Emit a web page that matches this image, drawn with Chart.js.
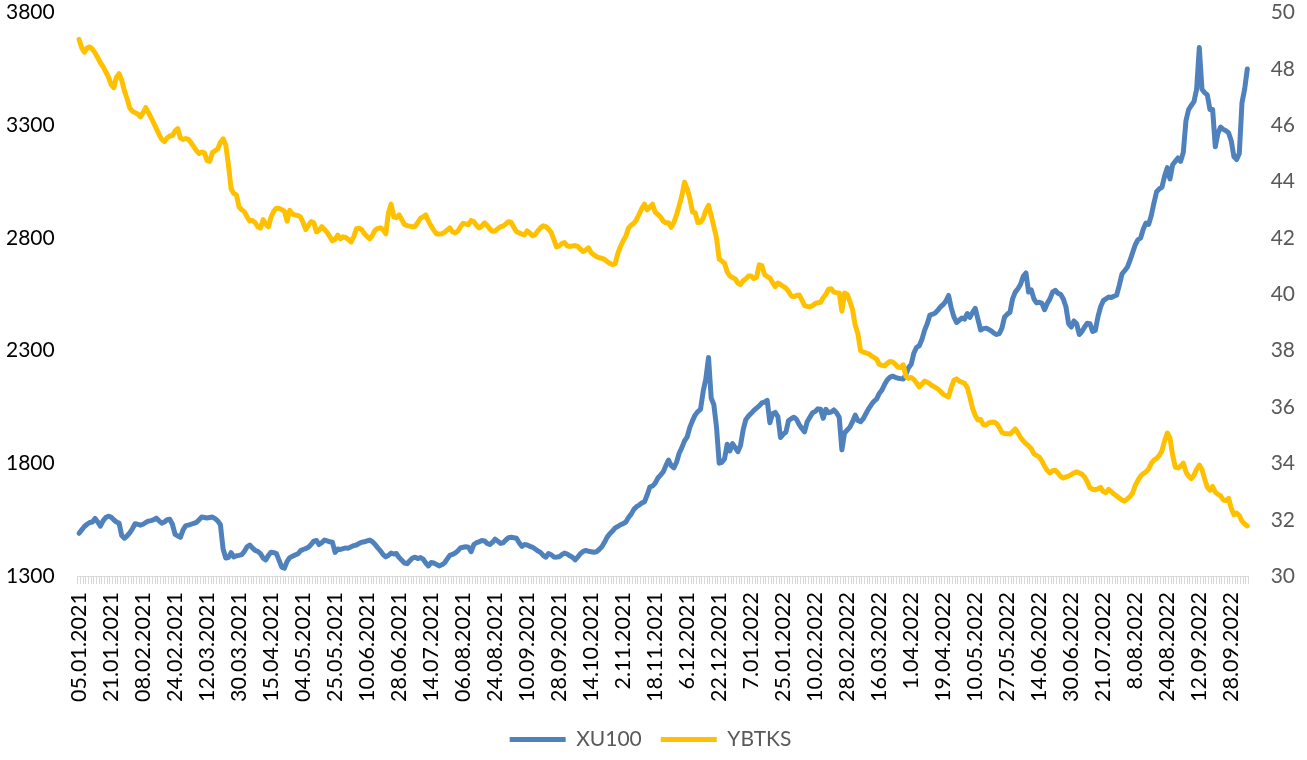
<!DOCTYPE html>
<html>
<head>
<meta charset="utf-8">
<script src="https://cdn.jsdelivr.net/npm/chart.js@4.4.1/dist/chart.umd.min.js"></script>
<style>
  html, body { margin: 0; padding: 0; background: #fff; }
  #wrap { width: 1307px; height: 760px; position: relative; }
</style>
</head>
<body>
<div id="wrap"><canvas id="chart"></canvas></div>
<script>
// Etiketler: her 12 işlem gününde bir
const tickLabels = [
  '05.01.2021', '21.01.2021', '08.02.2021', '24.02.2021', '12.03.2021', '30.03.2021',
  '15.04.2021', '04.05.2021', '25.05.2021', '10.06.2021', '28.06.2021', '14.07.2021',
  '06.08.2021', '24.08.2021', '10.09.2021', '28.09.2021', '14.10.2021', '2.11.2021',
  '18.11.2021', '6.12.2021', '22.12.2021', '7.01.2022', '25.01.2022', '10.02.2022',
  '28.02.2022', '16.03.2022', '1.04.2022', '19.04.2022', '10.05.2022', '27.05.2022',
  '14.06.2022', '30.06.2022', '21.07.2022', '8.08.2022', '24.08.2022', '12.09.2022',
  '28.09.2022'
];
const labelStep = 12;

// XU100 (sol eksen)
const xu100 = [
  1490,1505,1520,1530,1538,1540,1556,1540,1522,1545,1560,1566,
  1562,1550,1540,1535,1480,1468,1478,1492,1510,1532,1530,1526,
  1530,1538,1544,1546,1550,1557,1545,1535,1540,1550,1552,1530,
  1485,1478,1472,1505,1524,1526,1530,1534,1538,1550,1562,1560,
  1558,1560,1562,1555,1545,1528,1420,1380,1382,1404,1385,1390,
  1392,1395,1410,1430,1438,1425,1414,1410,1400,1380,1372,1392,
  1406,1404,1400,1370,1340,1335,1365,1382,1388,1394,1398,1412,
  1418,1422,1428,1440,1455,1458,1440,1448,1460,1456,1452,1450,
  1405,1420,1418,1422,1425,1424,1430,1435,1438,1445,1450,1452,
  1456,1460,1452,1440,1425,1412,1395,1385,1392,1402,1398,1400,
  1382,1370,1358,1355,1368,1380,1384,1378,1382,1375,1358,1345,
  1360,1358,1352,1345,1350,1358,1375,1392,1396,1402,1412,1425,
  1428,1430,1428,1408,1440,1448,1452,1458,1456,1445,1440,1450,
  1464,1455,1445,1448,1460,1470,1472,1470,1468,1448,1432,1440,
  1438,1432,1428,1420,1412,1405,1392,1384,1400,1395,1385,1384,
  1386,1395,1402,1398,1390,1384,1372,1385,1400,1410,1414,1410,
  1408,1406,1408,1418,1430,1450,1473,1488,1500,1514,1520,1528,
  1533,1540,1560,1575,1596,1608,1615,1624,1630,1660,1695,1700,
  1712,1735,1748,1762,1790,1815,1790,1780,1805,1845,1870,1900,
  1918,1960,1990,2015,2030,2040,2120,2175,2270,2090,2060,1960,
  1801,1805,1820,1885,1855,1888,1870,1852,1880,1950,1995,2010,
  2022,2035,2045,2055,2068,2072,2080,1980,2020,2026,2008,1915,
  1930,1938,1990,1998,2005,1995,1972,1955,1940,1985,2005,2025,
  2030,2042,2040,2000,2040,2025,2028,2037,2025,2005,1860,1935,
  1948,1961,1985,2014,1990,1985,1998,2020,2042,2060,2075,2085,
  2110,2125,2150,2170,2182,2187,2182,2178,2176,2174,2195,2225,
  2240,2290,2315,2322,2350,2390,2420,2458,2462,2467,2480,2495,
  2505,2520,2545,2490,2450,2425,2435,2445,2440,2465,2448,2470,
  2488,2440,2392,2398,2400,2395,2388,2378,2372,2376,2400,2450,
  2462,2470,2530,2560,2575,2595,2630,2645,2560,2570,2530,2512,
  2515,2510,2482,2510,2530,2560,2568,2555,2550,2530,2495,2420,
  2405,2432,2420,2372,2385,2405,2422,2420,2385,2390,2450,2495,
  2522,2530,2538,2536,2542,2546,2590,2640,2655,2670,2700,2735,
  2770,2792,2800,2840,2866,2860,2900,2955,3005,3018,3026,3075,
  3112,3062,3125,3140,3155,3140,3180,3320,3370,3388,3405,3460,
  3645,3460,3445,3435,3370,3370,3205,3265,3292,3282,3276,3266,
  3230,3160,3148,3175,3400,3460,3550
];

// YBTKS (sağ eksen)
const ybtks = [
  49.05,48.75,48.60,48.75,48.78,48.70,48.57,48.40,48.22,48.08,47.90,47.72,
  47.45,47.33,47.70,47.83,47.60,47.22,46.95,46.62,46.50,46.45,46.40,46.30,
  46.45,46.63,46.45,46.27,46.08,45.88,45.67,45.50,45.42,45.55,45.62,45.64,
  45.80,45.88,45.55,45.50,45.53,45.50,45.38,45.24,45.10,45.00,45.05,45.02,
  44.75,44.72,45.03,45.10,45.16,45.40,45.52,45.30,44.60,43.75,43.58,43.53,
  43.10,43.00,42.93,42.75,42.60,42.62,42.55,42.40,42.35,42.65,42.50,42.40,
  42.75,42.95,43.06,43.05,43.00,42.95,42.60,42.98,42.85,42.82,42.80,42.75,
  42.55,42.30,42.45,42.58,42.54,42.22,42.28,42.40,42.30,42.20,42.05,41.90,
  41.95,42.10,41.97,42.04,42.02,41.95,41.86,42.05,42.33,42.35,42.29,42.15,
  42.05,41.97,42.10,42.28,42.34,42.36,42.30,42.15,42.90,43.20,42.75,42.72,
  42.82,42.65,42.48,42.44,42.42,42.40,42.41,42.55,42.70,42.75,42.82,42.60,
  42.42,42.28,42.15,42.14,42.15,42.20,42.28,42.36,42.22,42.18,42.24,42.40,
  42.52,42.50,42.47,42.62,42.58,42.45,42.36,42.42,42.54,42.45,42.32,42.24,
  42.25,42.33,42.40,42.42,42.50,42.58,42.55,42.38,42.22,42.18,42.14,42.11,
  42.25,42.18,42.08,42.12,42.25,42.36,42.43,42.40,42.32,42.20,41.95,41.68,
  41.72,41.80,41.84,41.72,41.70,41.72,41.73,41.70,41.60,41.52,41.58,41.65,
  41.48,41.40,41.34,41.30,41.28,41.24,41.16,41.10,41.06,41.08,41.45,41.70,
  41.90,42.06,42.35,42.46,42.52,42.65,42.85,43.05,43.20,43.00,43.10,43.20,
  42.92,42.84,42.75,42.60,42.54,42.54,42.38,42.55,42.82,43.15,43.50,43.98,
  43.75,43.40,42.92,42.90,42.55,42.56,42.70,42.98,43.16,42.80,42.40,42.00,
  41.25,41.18,41.10,40.80,40.65,40.60,40.55,40.40,40.35,40.48,40.55,40.65,
  40.65,40.56,40.60,41.05,41.02,40.70,40.63,40.58,40.42,40.27,40.40,40.35,
  40.28,40.22,40.10,39.95,39.92,39.96,39.98,39.80,39.60,39.57,39.56,39.60,
  39.68,39.70,39.72,39.88,40.00,40.18,40.20,40.08,40.06,40.05,39.40,40.05,
  40.00,39.75,39.45,38.90,38.60,38.00,37.95,37.92,37.89,37.82,37.76,37.70,
  37.52,37.48,37.46,37.55,37.62,37.60,37.52,37.42,37.40,37.50,37.10,37.02,
  37.05,36.98,36.85,36.72,36.82,36.92,36.88,36.82,36.75,36.70,36.64,36.55,
  36.45,36.40,36.36,36.70,36.95,37.00,36.92,36.88,36.84,36.70,36.35,35.95,
  35.70,35.54,35.56,35.38,35.36,35.44,35.46,35.47,35.42,35.28,35.10,35.06,
  35.05,35.04,35.12,35.22,35.08,34.92,34.80,34.70,34.62,34.52,34.34,34.28,
  34.22,34.08,33.90,33.75,33.66,33.74,33.76,33.66,33.54,33.48,33.52,33.55,
  33.60,33.66,33.70,33.66,33.62,33.52,33.35,33.13,33.08,33.06,33.10,33.15,
  33.00,32.96,33.08,33.00,32.91,32.84,32.77,32.70,32.66,32.74,32.82,32.95,
  33.22,33.40,33.55,33.64,33.70,33.80,34.00,34.12,34.18,34.28,34.45,34.80,
  35.08,34.90,34.30,33.86,33.84,33.90,34.01,33.70,33.55,33.46,33.58,33.80,
  33.94,33.78,33.45,33.15,33.05,33.18,32.98,32.90,32.85,32.70,32.68,32.76,
  32.40,32.18,32.24,32.15,31.95,31.85,31.78
];

// Kategori ekseni: sadece her 12. günde etiket
const categories = xu100.map((_, i) => (i % labelStep === 0 ? (tickLabels[i / labelStep] || '') : ''));

const FONT = 'Lato, "Open Sans", "DejaVu Sans", sans-serif';

new Chart(document.getElementById('chart'), {
  type: 'line',
  data: {
    labels: categories,
    datasets: [
      {
        label: 'XU100',
        data: xu100,
        yAxisID: 'y',
        borderColor: '#4f81bd',
        backgroundColor: '#4f81bd',
        borderWidth: 5,
        borderCapStyle: 'round',
        borderJoinStyle: 'round',
        pointRadius: 0,
        tension: 0,
        order: 1
      },
      {
        label: 'YBTKS',
        data: ybtks,
        yAxisID: 'y1',
        borderColor: '#ffc000',
        backgroundColor: '#ffc000',
        borderWidth: 5,
        borderCapStyle: 'round',
        borderJoinStyle: 'round',
        pointRadius: 0,
        tension: 0,
        order: 0
      }
    ]
  },
  options: {
    responsive: true,
    maintainAspectRatio: false,
    animation: false,
    layout: { padding: { left: 6, right: 12, top: 0, bottom: 0 } },
    plugins: {
      tooltip: { enabled: false },
      legend: {
        position: 'bottom',
        labels: {
          color: '#595959',
          font: { family: FONT, size: 21 },
          usePointStyle: true,
          pointStyle: 'line',
          pointStyleWidth: 56,
          padding: 19,
          sort: (a, b) => a.datasetIndex - b.datasetIndex
        }
      }
    },
    scales: {
      x: {
        type: 'category',
        offset: true,
        grid: {
          display: true,
          drawOnChartArea: false,
          drawTicks: true,
          tickLength: 8,
          color: '#d9d9d9',
          offset: true
        },
        border: { display: true, color: '#d9d9d9' },
        ticks: {
          autoSkip: false,
          minRotation: 90,
          maxRotation: 90,
          padding: 8,
          color: '#000',
          font: { family: FONT, size: 21.5 }
        }
      },
      y: {
        position: 'left',
        min: 1300,
        max: 3800,
        grid: { display: false, drawTicks: true, tickLength: 23 },
        border: { display: false },
        ticks: {
          stepSize: 500,
          padding: 0,
          color: '#000',
          font: { family: FONT, size: 21 },
          callback: v => String(v)
        }
      },
      y1: {
        position: 'right',
        min: 30,
        max: 50,
        grid: { display: false, drawTicks: true, tickLength: 22 },
        border: { display: false },
        ticks: {
          stepSize: 2,
          padding: 0,
          color: '#595959',
          font: { family: FONT, size: 21 }
        }
      }
    }
  }
});
</script>
</body>
</html>
